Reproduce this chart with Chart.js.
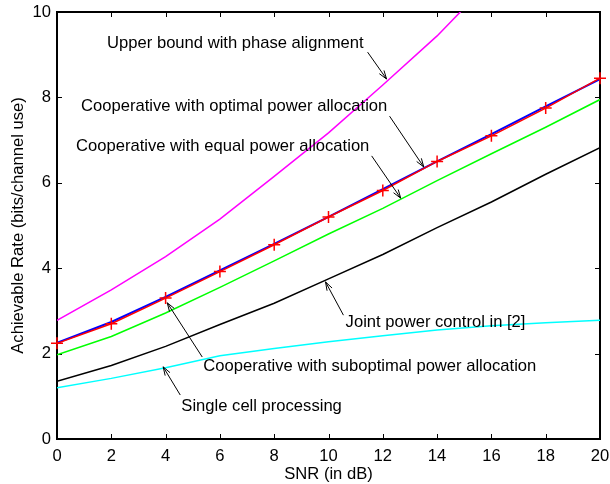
<!DOCTYPE html>
<html><head><meta charset="utf-8">
<script src="https://cdn.jsdelivr.net/npm/chart.js@4"></script>
<style>html,body{margin:0;padding:0;background:#fff}#wrap{width:610px;height:484px}</style>
</head><body><div id="wrap"><canvas id="c" width="610" height="484"></canvas></div>
<script>
const snr = [0,2,4,6,8,10,12,14,16,18,20];
const upperBound = [2.78,3.49,4.27,5.15,6.15,7.17,8.29,9.44,10.75,12.0,13.3];
const optimal = [2.25,2.74,3.33,3.95,4.57,5.2,5.85,6.5,7.14,7.79,8.43];
const suboptimal = [2.24,2.70,3.30,3.92,4.55,5.20,5.82,6.50,7.10,7.75,8.45];
const equalPower = [1.97,2.40,2.95,3.55,4.17,4.80,5.40,6.05,6.68,7.30,7.95];
const jointPower = [1.35,1.72,2.17,2.68,3.18,3.75,4.32,4.95,5.55,6.20,6.82];
const singleCell = [1.20,1.42,1.67,1.95,2.12,2.28,2.42,2.55,2.65,2.72,2.78];
const xTicks = [0,2,4,6,8,10,12,14,16,18,20];
const yTicks = [0,2,4,6,8,10];
const annotations = [
  {text:'Upper bound with phase alignment', x:1.845, y:9.27, from:[11.44,9.06], to:[12.14,8.43]},
  {text:'Cooperative with optimal power allocation', x:0.886, y:7.80, from:[12.25,7.56], to:[13.51,6.37]},
  {text:'Cooperative with equal power allocation', x:0.70, y:6.86, from:[11.59,6.63], to:[12.66,5.64]},
  {text:'Joint power control in [2]', x:10.63, y:2.72, from:[10.55,2.90], to:[9.89,3.68]},
  {text:'Cooperative with suboptimal power allocation', x:5.39, y:1.69, from:[5.35,1.92], to:[4.06,3.19]},
  {text:'Single cell processing', x:4.58, y:0.77, from:[4.54,1.03], to:[3.91,1.69]}
];
const FONT = 'Liberation Sans, Arial, Helvetica, sans-serif';
const pts = a => snr.map((x,i)=>({x, y:a[i]}));

const framePlugin = {
  id:'frame',
  beforeDatasetsDraw(chart){
    const {ctx, chartArea:a, scales:{x, y}} = chart;
    ctx.save();
    ctx.strokeStyle='#000'; ctx.lineWidth=1;
    const tl=5;
    ctx.beginPath();
    xTicks.forEach(v=>{const p=Math.round(x.getPixelForValue(v))+0.5;
      ctx.moveTo(p,a.bottom); ctx.lineTo(p,a.bottom-tl);
      ctx.moveTo(p,a.top); ctx.lineTo(p,a.top+tl);});
    yTicks.forEach(v=>{const p=Math.round(y.getPixelForValue(v))+0.5;
      ctx.moveTo(a.left,p); ctx.lineTo(a.left+tl,p);
      ctx.moveTo(a.right,p); ctx.lineTo(a.right-tl,p);});
    ctx.stroke();
    ctx.lineWidth=2;
    ctx.strokeRect(a.left, a.top, a.right-a.left, a.bottom-a.top);
    ctx.restore();
  },
  afterDatasetsDraw(chart){
    const {ctx, scales:{x, y}} = chart;
    ctx.save();
    ctx.strokeStyle='#000';
    ctx.fillStyle='#000'; ctx.font='16.6px '+FONT; ctx.textBaseline='middle'; ctx.textAlign='left';
    ctx.lineWidth=1;
    annotations.forEach(an=>{
      ctx.fillText(an.text, x.getPixelForValue(an.x), y.getPixelForValue(an.y));
      const x1=x.getPixelForValue(an.from[0]), y1=y.getPixelForValue(an.from[1]);
      const x2=x.getPixelForValue(an.to[0]), y2=y.getPixelForValue(an.to[1]);
      ctx.beginPath(); ctx.moveTo(x1,y1); ctx.lineTo(x2,y2); ctx.stroke();
      const ang=Math.atan2(y2-y1,x2-x1), L=9, w=0.32;
      ctx.beginPath();
      ctx.moveTo(x2-L*Math.cos(ang-w), y2-L*Math.sin(ang-w));
      ctx.lineTo(x2,y2);
      ctx.lineTo(x2-L*Math.cos(ang+w), y2-L*Math.sin(ang+w));
      ctx.stroke();
    });
    ctx.restore();
  }
};

new Chart(document.getElementById('c'), {
  type:'line',
  data:{datasets:[
    {label:'Upper bound with phase alignment', data:pts(upperBound), borderColor:'#ff00ff', borderWidth:1.5, pointRadius:0},
    {label:'Single cell processing', data:pts(singleCell), borderColor:'#00ffff', borderWidth:1.5, pointRadius:0},
    {label:'Joint power control in [2]', data:pts(jointPower), borderColor:'#000000', borderWidth:1.5, pointRadius:0},
    {label:'Cooperative with equal power allocation', data:pts(equalPower), borderColor:'#00ff00', borderWidth:1.5, pointRadius:0},
    {label:'Cooperative with suboptimal power allocation', data:pts(suboptimal), borderColor:'#ff0000', borderWidth:1.5, pointStyle:'cross', pointRadius:6, pointBorderWidth:1.5, pointBorderColor:'#ff0000', clip:false},
    {label:'Cooperative with optimal power allocation', data:pts(optimal), borderColor:'#0000ff', borderWidth:2, pointRadius:0}
  ]},
  options:{
    responsive:false, animation:false, events:[],
    layout:{padding:{top:12,right:10,left:0,bottom:0}},
    plugins:{legend:{display:false}, tooltip:{enabled:false}},
    scales:{
      x:{type:'linear', min:0, max:20,
        afterFit:s=>{s.height=45; s.paddingLeft=0; s.paddingRight=0;},
        afterBuildTicks:s=>{s.ticks=xTicks.map(v=>({value:v}));},
        grid:{display:false, drawTicks:false}, border:{display:false},
        ticks:{color:'#000', font:{family:FONT,size:16.6}, padding:7, maxRotation:0},
        title:{display:true, text:'SNR (in dB)', color:'#000', font:{family:FONT,size:16.6}, padding:{top:0,bottom:0}}},
      y:{type:'linear', min:0, max:10,
        afterFit:s=>{s.width=57; s.paddingTop=0; s.paddingBottom=0;},
        afterBuildTicks:s=>{s.ticks=yTicks.map(v=>({value:v}));},
        grid:{display:false, drawTicks:false}, border:{display:false},
        ticks:{color:'#000', font:{family:FONT,size:16.6}, padding:6},
        title:{display:true, text:'Achievable Rate (bits/channel use)', color:'#000', font:{family:FONT,size:16.6}, padding:{top:8,bottom:0}}}
    }
  },
  plugins:[framePlugin]
});
</script></body></html>
